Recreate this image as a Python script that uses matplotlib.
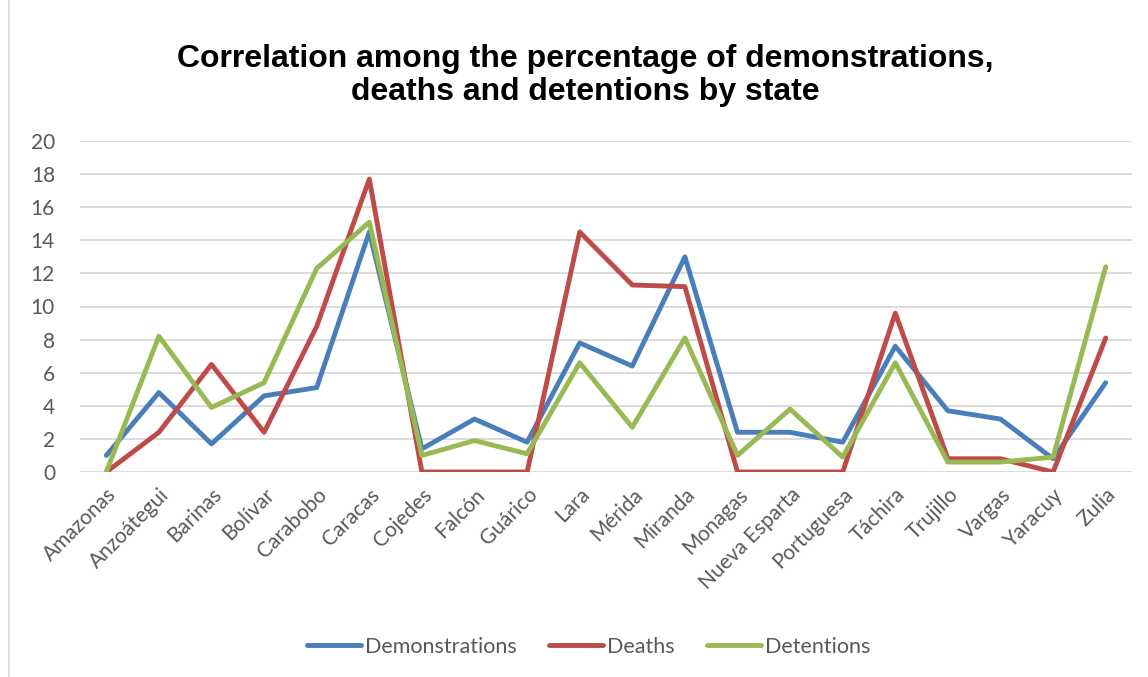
"""Correlation among demonstrations, deaths and detentions by state."""

import matplotlib
matplotlib.use("Agg")
import matplotlib.pyplot as plt
from matplotlib.lines import Line2D

states = [
    "Amazonas", "Anzoátegui", "Barinas", "Bolívar", "Carabobo", "Caracas",
    "Cojedes", "Falcón", "Guárico", "Lara", "Mérida", "Miranda", "Monagas",
    "Nueva Esparta", "Portuguesa", "Táchira", "Trujillo", "Vargas", "Yaracuy",
    "Zulia",
]
demonstrations = [1.0, 4.8, 1.7, 4.6, 5.1, 14.5, 1.4, 3.2, 1.8, 7.8, 6.4, 13.0,
                  2.4, 2.4, 1.8, 7.6, 3.7, 3.2, 0.8, 5.4]
deaths = [0.0, 2.4, 6.5, 2.4, 8.8, 17.7, 0.0, 0.0, 0.0, 14.5, 11.3, 11.2,
          0.0, 0.0, 0.0, 9.6, 0.8, 0.8, 0.0, 8.1]
detentions = [0.0, 8.2, 3.9, 5.4, 12.3, 15.1, 1.0, 1.9, 1.1, 6.6, 2.7, 8.1,
              1.0, 3.8, 0.9, 6.6, 0.6, 0.6, 0.9, 12.4]
yticks = list(range(0, 21, 2))

series = [
    ("Demonstrations", demonstrations, "#4a7ebb"),
    ("Deaths", deaths, "#be4b48"),
    ("Detentions", detentions, "#98b954"),
]


def main():
    plt.rcParams["font.family"] = ["Lato", "DejaVu Sans"]
    fig = plt.figure(figsize=(11.48, 6.77), dpi=100)
    ax = fig.add_axes([80 / 1148, 1 - 472 / 677, 1052 / 1148, 331 / 677])

    x = list(range(len(states)))
    for name, values, color in series:
        ax.plot(x, values, color=color, linewidth=3.5, label=name,
                solid_joinstyle="round", solid_capstyle="round", zorder=3)

    ax.set_xlim(-0.5, len(states) - 0.5)
    ax.set_ylim(0, 20)
    ax.set_yticks(yticks)
    ax.yaxis.grid(True, color="#d9d9d9", linewidth=1.3, zorder=0)
    ax.set_axisbelow(True)
    for spine in ax.spines.values():
        spine.set_visible(False)
    ax.tick_params(axis="both", length=0, labelsize=15, labelcolor="#595959")
    ax.tick_params(axis="y", pad=18)
    ax.set_xticks(x)
    ax.set_xticklabels(states, rotation=45, ha="right", rotation_mode="anchor")
    ax.tick_params(axis="x", pad=9)

    fig.suptitle(
        "Correlation among the percentage of demonstrations,\n"
        "deaths and detentions by state",
        x=585 / 1148, y=0.935, fontsize=23, fontweight="bold",
        family=["Liberation Sans", "DejaVu Sans"], linespacing=1.15,
    )

    fig.legend(
        loc="center", bbox_to_anchor=(589 / 1148, 1 - 647 / 677), ncol=3,
        frameon=False, fontsize=15.5, labelcolor="#595959", handlelength=2.5,
        columnspacing=1.5, handletextpad=0.2,
    )

    fig.add_artist(Line2D([9 / 1148, 9 / 1148], [0, 1], color="#d9d9d9",
                          linewidth=1.2, transform=fig.transFigure))

    plt.savefig("out.png", dpi=100)


if __name__ == "__main__":
    main()
